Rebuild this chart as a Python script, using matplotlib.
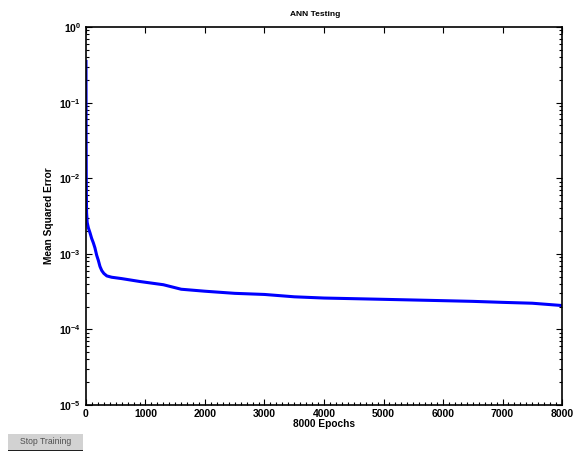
import numpy as np
import matplotlib.pyplot as plt
from matplotlib.patches import Rectangle
from matplotlib.ticker import MultipleLocator, LogLocator, NullFormatter

plt.rcParams['font.family'] = ['Liberation Sans', 'DejaVu Sans']
plt.rcParams['font.weight'] = 'bold'
plt.rcParams['mathtext.default'] = 'regular'

# test error per epoch
epochs = [0, 1, 2, 4, 6, 10, 20, 40, 67, 95, 123, 150, 179, 207, 235, 265,
          300, 350, 431, 600, 907, 1300, 1600, 2000, 2500, 3000, 3500, 4000,
          4500, 5000, 5500, 6000, 6500, 7000, 7500, 8000]
mse = [0.35, 0.12, 0.04, 0.012, 0.006, 0.0035, 0.0026, 0.0022, 0.0019,
       0.0016, 0.0014, 0.0012, 0.00096, 0.00082, 0.00068, 0.0006, 0.00055,
       0.00051, 0.00049, 0.00047, 0.00043, 0.00039, 0.00034, 0.00032,
       0.00030, 0.00029, 0.00027, 0.00026, 0.000255, 0.00025, 0.000245,
       0.00024, 0.000235, 0.000228, 0.000222, 0.000207]

fig = plt.figure(figsize=(5.76, 4.54), dpi=100)
ax = fig.add_axes([0.1493, 0.1079, 0.8264, 0.8326])
ax.semilogy(epochs, mse, color='#0000ff', lw=2.2)
ax.set_xlim(0, 8000)
ax.set_ylim(1e-5, 1)

ax.xaxis.set_major_locator(MultipleLocator(1000))
ax.xaxis.set_minor_locator(MultipleLocator(100))
ax.yaxis.set_major_locator(LogLocator(base=10, numticks=10))
ax.yaxis.set_minor_locator(LogLocator(base=10, subs=np.arange(2, 10), numticks=10))
ax.yaxis.set_minor_formatter(NullFormatter())
ax.tick_params(which='both', direction='in', top=True, right=True,
               labelsize=7.5, width=0.8)
ax.tick_params(which='major', length=4)
ax.tick_params(which='minor', length=2)
ax.tick_params(axis='x', which='minor', top=False)
ax.tick_params(axis='x', pad=3)
for s in ax.spines.values():
    s.set_linewidth(1.2)

fig.text(315 / 576, 1 - 15 / 454, 'ANN Testing', fontsize=6.0,
         fontweight='bold', ha='center', va='center')
ax.set_xlabel('8000 Epochs', fontsize=7.3, fontweight='bold', labelpad=0)
ax.set_ylabel('Mean Squared Error', fontsize=7.3, fontweight='bold', labelpad=4)

# button under the plot
fig.add_artist(Rectangle((8 / 576, 4 / 454), 75 / 576, 16 / 454,
                         transform=fig.transFigure, fc='#d2d2d2', ec='none'))
fig.add_artist(Rectangle((8 / 576, 3 / 454), 75 / 576, 1.5 / 454,
                         transform=fig.transFigure, fc='#202020', ec='none'))
fig.text(45.5 / 576, 12 / 454, 'Stop Training', fontsize=6.2,
         fontweight='normal', color='#505050', va='center', ha='center')

fig.savefig('out.png', dpi=100)
